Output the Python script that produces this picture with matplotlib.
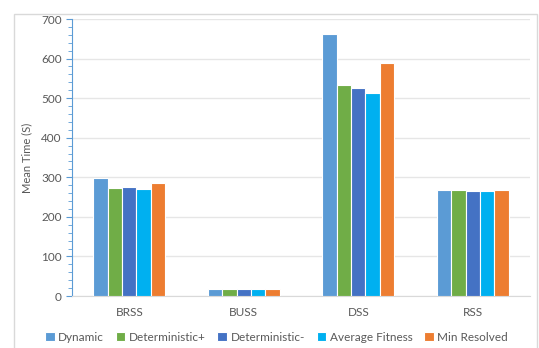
import matplotlib.pyplot as plt
import numpy as np
from matplotlib.patches import Rectangle

categories = ["BRSS", "BUSS", "DSS", "RSS"]
series = ["Dynamic", "Deterministic+", "Deterministic-", "Average Fitness", "Min Resolved"]
dynamic = [297, 18, 661, 268]
det_plus = [274, 17, 534, 267]
det_minus = [276, 17, 525, 265]
avg_fitness = [270, 17, 513, 266]
min_resolved = [285, 17, 588, 269]
values = [dynamic, det_plus, det_minus, avg_fitness, min_resolved]
colors = ["#5B9BD5", "#70AD47", "#4472C4", "#00B0F0", "#ED7D31"]

plt.rcParams["font.family"] = ["Lato", "DejaVu Sans"]
text_color = "#595959"

fig = plt.figure(figsize=(5.39, 3.48), dpi=100)
# chart frame
fig.patches.append(Rectangle((14 / 539, -0.05), 523 / 539, 1.03 - 7 / 348,
                             transform=fig.transFigure, fill=False,
                             edgecolor="#D9D9D9", linewidth=1.0))
ax = fig.add_axes([0.1336, 0.1494, 0.8497, 0.796])

x = np.arange(len(categories))
slot = 0.126
for i, (vals, c) in enumerate(zip(values, colors)):
    ax.bar(x + (i - 2) * slot, vals, width=slot, color=c, edgecolor="white",
           linewidth=0.8, label=series[i], zorder=3)

ax.set_xlim(-0.5, 3.5)
ax.set_ylim(0, 700)
ax.set_yticks(range(0, 701, 100))
ax.set_yticks(range(0, 701, 20), minor=True)
ax.grid(axis="y", color="#E6E6E6", linewidth=1.0, zorder=0)
ax.set_xticks(x)
ax.set_xticklabels(categories)

for s in ["top", "right"]:
    ax.spines[s].set_visible(False)
ax.spines["left"].set_color("#5B9BD5")
ax.spines["bottom"].set_color("#D9D9D9")
ax.tick_params(axis="y", which="both", direction="out", color="#5B9BD5",
               labelsize=8.5, labelcolor=text_color)
ax.tick_params(axis="y", which="major", length=4)
ax.tick_params(axis="y", which="minor", length=3)
ax.tick_params(axis="x", length=0, labelsize=8.5, labelcolor=text_color, pad=8)
ax.set_ylabel("Mean Time (S)", fontsize=8, color=text_color, labelpad=6)

ax.legend(loc="upper center", bbox_to_anchor=(0.4465, -0.09), ncol=5,
          frameon=False, fontsize=8.5, labelcolor=text_color,
          handlelength=0.8, handleheight=0.8, handletextpad=0.3,
          columnspacing=1.0)

fig.savefig("out.png", dpi=100)
